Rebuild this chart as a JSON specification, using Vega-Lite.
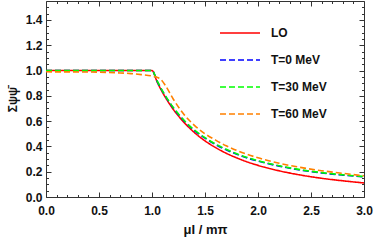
{
  "$schema": "https://vega.github.io/schema/vega-lite/v6.json",
  "width": 318,
  "height": 196,
  "autosize": {"type": "none"},
  "padding": {"left": 46, "top": 1, "right": 10, "bottom": 45},
  "config": {
    "view": {"stroke": "#333", "strokeWidth": 1},
    "axis": {"grid": false, "domain": false, "labelFlush": false, "tickColor": "#333", "labelFont": "Liberation Sans", "labelFontWeight": "bold", "labelFontSize": 12, "labelColor": "#111", "titleFont": "Liberation Sans", "titleColor": "#111"}
  },
  "datasets": {
    "curves": [
      {"mu": 0, "sigma": 1, "series": "LO"},
      {"mu": 0.5, "sigma": 1, "series": "LO"},
      {"mu": 1.0, "sigma": 1, "series": "LO"},
      {"mu": 1.05, "sigma": 0.907, "series": "LO"},
      {"mu": 1.1, "sigma": 0.826, "series": "LO"},
      {"mu": 1.15, "sigma": 0.756, "series": "LO"},
      {"mu": 1.2, "sigma": 0.694, "series": "LO"},
      {"mu": 1.3, "sigma": 0.592, "series": "LO"},
      {"mu": 1.4, "sigma": 0.51, "series": "LO"},
      {"mu": 1.5, "sigma": 0.444, "series": "LO"},
      {"mu": 1.6, "sigma": 0.391, "series": "LO"},
      {"mu": 1.7, "sigma": 0.346, "series": "LO"},
      {"mu": 1.8, "sigma": 0.309, "series": "LO"},
      {"mu": 1.9, "sigma": 0.277, "series": "LO"},
      {"mu": 2.0, "sigma": 0.25, "series": "LO"},
      {"mu": 2.2, "sigma": 0.207, "series": "LO"},
      {"mu": 2.4, "sigma": 0.174, "series": "LO"},
      {"mu": 2.6, "sigma": 0.148, "series": "LO"},
      {"mu": 2.8, "sigma": 0.128, "series": "LO"},
      {"mu": 3.0, "sigma": 0.111, "series": "LO"},
      {"mu": 0, "sigma": 1, "series": "T=0 MeV"},
      {"mu": 0.5, "sigma": 1, "series": "T=0 MeV"},
      {"mu": 1.0, "sigma": 1, "series": "T=0 MeV"},
      {"mu": 1.05, "sigma": 0.913, "series": "T=0 MeV"},
      {"mu": 1.1, "sigma": 0.835, "series": "T=0 MeV"},
      {"mu": 1.15, "sigma": 0.766, "series": "T=0 MeV"},
      {"mu": 1.2, "sigma": 0.705, "series": "T=0 MeV"},
      {"mu": 1.3, "sigma": 0.605, "series": "T=0 MeV"},
      {"mu": 1.4, "sigma": 0.525, "series": "T=0 MeV"},
      {"mu": 1.5, "sigma": 0.465, "series": "T=0 MeV"},
      {"mu": 1.6, "sigma": 0.415, "series": "T=0 MeV"},
      {"mu": 1.7, "sigma": 0.373, "series": "T=0 MeV"},
      {"mu": 1.8, "sigma": 0.338, "series": "T=0 MeV"},
      {"mu": 1.9, "sigma": 0.308, "series": "T=0 MeV"},
      {"mu": 2.0, "sigma": 0.284, "series": "T=0 MeV"},
      {"mu": 2.2, "sigma": 0.244, "series": "T=0 MeV"},
      {"mu": 2.4, "sigma": 0.213, "series": "T=0 MeV"},
      {"mu": 2.6, "sigma": 0.19, "series": "T=0 MeV"},
      {"mu": 2.8, "sigma": 0.173, "series": "T=0 MeV"},
      {"mu": 3.0, "sigma": 0.159, "series": "T=0 MeV"},
      {"mu": 0, "sigma": 1, "series": "T=30 MeV"},
      {"mu": 0.5, "sigma": 1, "series": "T=30 MeV"},
      {"mu": 1.0, "sigma": 1, "series": "T=30 MeV"},
      {"mu": 1.05, "sigma": 0.916, "series": "T=30 MeV"},
      {"mu": 1.1, "sigma": 0.838, "series": "T=30 MeV"},
      {"mu": 1.15, "sigma": 0.77, "series": "T=30 MeV"},
      {"mu": 1.2, "sigma": 0.709, "series": "T=30 MeV"},
      {"mu": 1.3, "sigma": 0.609, "series": "T=30 MeV"},
      {"mu": 1.4, "sigma": 0.529, "series": "T=30 MeV"},
      {"mu": 1.5, "sigma": 0.469, "series": "T=30 MeV"},
      {"mu": 1.6, "sigma": 0.419, "series": "T=30 MeV"},
      {"mu": 1.7, "sigma": 0.377, "series": "T=30 MeV"},
      {"mu": 1.8, "sigma": 0.342, "series": "T=30 MeV"},
      {"mu": 1.9, "sigma": 0.312, "series": "T=30 MeV"},
      {"mu": 2.0, "sigma": 0.287, "series": "T=30 MeV"},
      {"mu": 2.2, "sigma": 0.247, "series": "T=30 MeV"},
      {"mu": 2.4, "sigma": 0.216, "series": "T=30 MeV"},
      {"mu": 2.6, "sigma": 0.193, "series": "T=30 MeV"},
      {"mu": 2.8, "sigma": 0.176, "series": "T=30 MeV"},
      {"mu": 3.0, "sigma": 0.162, "series": "T=30 MeV"},
      {"mu": 0, "sigma": 0.99, "series": "T=60 MeV"},
      {"mu": 0.3, "sigma": 0.989, "series": "T=60 MeV"},
      {"mu": 0.5, "sigma": 0.987, "series": "T=60 MeV"},
      {"mu": 0.7, "sigma": 0.981, "series": "T=60 MeV"},
      {"mu": 0.8, "sigma": 0.976, "series": "T=60 MeV"},
      {"mu": 0.9, "sigma": 0.968, "series": "T=60 MeV"},
      {"mu": 1.0, "sigma": 0.957, "series": "T=60 MeV"},
      {"mu": 1.05, "sigma": 0.946, "series": "T=60 MeV"},
      {"mu": 1.08, "sigma": 0.932, "series": "T=60 MeV"},
      {"mu": 1.125, "sigma": 0.884, "series": "T=60 MeV"},
      {"mu": 1.2, "sigma": 0.775, "series": "T=60 MeV"},
      {"mu": 1.3, "sigma": 0.655, "series": "T=60 MeV"},
      {"mu": 1.4, "sigma": 0.567, "series": "T=60 MeV"},
      {"mu": 1.5, "sigma": 0.5, "series": "T=60 MeV"},
      {"mu": 1.6, "sigma": 0.45, "series": "T=60 MeV"},
      {"mu": 1.7, "sigma": 0.405, "series": "T=60 MeV"},
      {"mu": 1.8, "sigma": 0.368, "series": "T=60 MeV"},
      {"mu": 1.9, "sigma": 0.337, "series": "T=60 MeV"},
      {"mu": 2.0, "sigma": 0.31, "series": "T=60 MeV"},
      {"mu": 2.2, "sigma": 0.267, "series": "T=60 MeV"},
      {"mu": 2.4, "sigma": 0.234, "series": "T=60 MeV"},
      {"mu": 2.6, "sigma": 0.208, "series": "T=60 MeV"},
      {"mu": 2.8, "sigma": 0.187, "series": "T=60 MeV"},
      {"mu": 3.0, "sigma": 0.168, "series": "T=60 MeV"}
    ]
  },
  "data": {"name": "curves"},
  "layer": [
    {
      "mark": {"type": "line", "interpolate": "monotone", "strokeWidth": 1.6, "clip": true},
      "encoding": {
        "x": {"field": "mu", "type": "quantitative", "scale": {"domain": [0, 3], "nice": false},
          "axis": {"orient": "bottom", "values": [0, 0.5, 1, 1.5, 2, 2.5, 3], "format": ".1f", "tickSize": -5, "labelPadding": 13, "title": "μI / mπ", "titleFontSize": 13, "titleFontWeight": "bold", "titlePadding": 7}},
        "y": {"field": "sigma", "type": "quantitative", "scale": {"domain": [0, 1.55], "nice": false},
          "axis": {"orient": "left", "values": [0, 0.2, 0.4, 0.6, 0.8, 1.0, 1.2, 1.4], "format": ".1f", "tickSize": -5, "labelPadding": 9, "title": "Σψψ̄", "titleFontSize": 12, "titleFontWeight": "bold", "titlePadding": 6}},
        "color": {"field": "series", "type": "nominal",
          "scale": {"domain": ["LO", "T=0 MeV", "T=30 MeV", "T=60 MeV"], "range": ["#ff0000", "#0000ff", "#00ff00", "#ff8000"]},
          "legend": {"orient": "none", "legendX": 173, "legendY": 11, "title": null, "symbolType": "stroke", "symbolSize": 1600, "symbolStrokeWidth": 1.6, "labelFont": "Liberation Sans", "labelFontWeight": "bold", "labelFontSize": 12, "labelColor": "#111", "rowPadding": -2, "labelOffset": 10}},
        "strokeDash": {"field": "series", "type": "nominal",
          "scale": {"domain": ["LO", "T=0 MeV", "T=30 MeV", "T=60 MeV"], "range": [[1, 0], [6, 3], [6, 3], [6, 3]]},
          "legend": {"orient": "none", "legendX": 173, "legendY": 11, "title": null, "symbolType": "stroke", "symbolSize": 1600, "symbolStrokeWidth": 1.6, "labelFont": "Liberation Sans", "labelFontWeight": "bold", "labelFontSize": 12, "labelColor": "#111", "rowPadding": -2, "labelOffset": 10}}
      }
    },
    {
      "mark": {"type": "line", "opacity": 0},
      "encoding": {
        "x": {"field": "mu", "type": "quantitative", "scale": {"domain": [0, 3], "nice": false},
          "axis": {"orient": "bottom", "values": [0.1, 0.2, 0.3, 0.4, 0.6, 0.7, 0.8, 0.9, 1.1, 1.2, 1.3, 1.4, 1.6, 1.7, 1.8, 1.9, 2.1, 2.2, 2.3, 2.4, 2.6, 2.7, 2.8, 2.9], "labels": false, "tickSize": -2.5, "title": null}},
        "y": {"field": "sigma", "type": "quantitative", "scale": {"domain": [0, 1.55], "nice": false},
          "axis": {"orient": "left", "values": [0.05, 0.1, 0.15, 0.25, 0.3, 0.35, 0.45, 0.5, 0.55, 0.65, 0.7, 0.75, 0.85, 0.9, 0.95, 1.05, 1.1, 1.15, 1.25, 1.3, 1.35, 1.45, 1.5], "labels": false, "tickSize": -2.5, "title": null}}
      }
    },
    {
      "mark": {"type": "line", "opacity": 0},
      "encoding": {
        "x": {"field": "mu", "type": "quantitative", "scale": {"domain": [0, 3], "nice": false},
          "axis": {"orient": "top", "values": [0, 0.5, 1, 1.5, 2, 2.5, 3], "labels": false, "tickSize": -5, "title": null}},
        "y": {"field": "sigma", "type": "quantitative", "scale": {"domain": [0, 1.55], "nice": false},
          "axis": {"orient": "right", "values": [0, 0.2, 0.4, 0.6, 0.8, 1.0, 1.2, 1.4], "labels": false, "tickSize": -5, "title": null}}
      }
    },
    {
      "mark": {"type": "line", "opacity": 0},
      "encoding": {
        "x": {"field": "mu", "type": "quantitative", "scale": {"domain": [0, 3], "nice": false},
          "axis": {"orient": "top", "values": [0.1, 0.2, 0.3, 0.4, 0.6, 0.7, 0.8, 0.9, 1.1, 1.2, 1.3, 1.4, 1.6, 1.7, 1.8, 1.9, 2.1, 2.2, 2.3, 2.4, 2.6, 2.7, 2.8, 2.9], "labels": false, "tickSize": -2.5, "title": null}},
        "y": {"field": "sigma", "type": "quantitative", "scale": {"domain": [0, 1.55], "nice": false},
          "axis": {"orient": "right", "values": [0.05, 0.1, 0.15, 0.25, 0.3, 0.35, 0.45, 0.5, 0.55, 0.65, 0.7, 0.75, 0.85, 0.9, 0.95, 1.05, 1.1, 1.15, 1.25, 1.3, 1.35, 1.45, 1.5], "labels": false, "tickSize": -2.5, "title": null}}
      }
    }
  ],
  "resolve": {"axis": {"x": "independent", "y": "independent"}}
}
